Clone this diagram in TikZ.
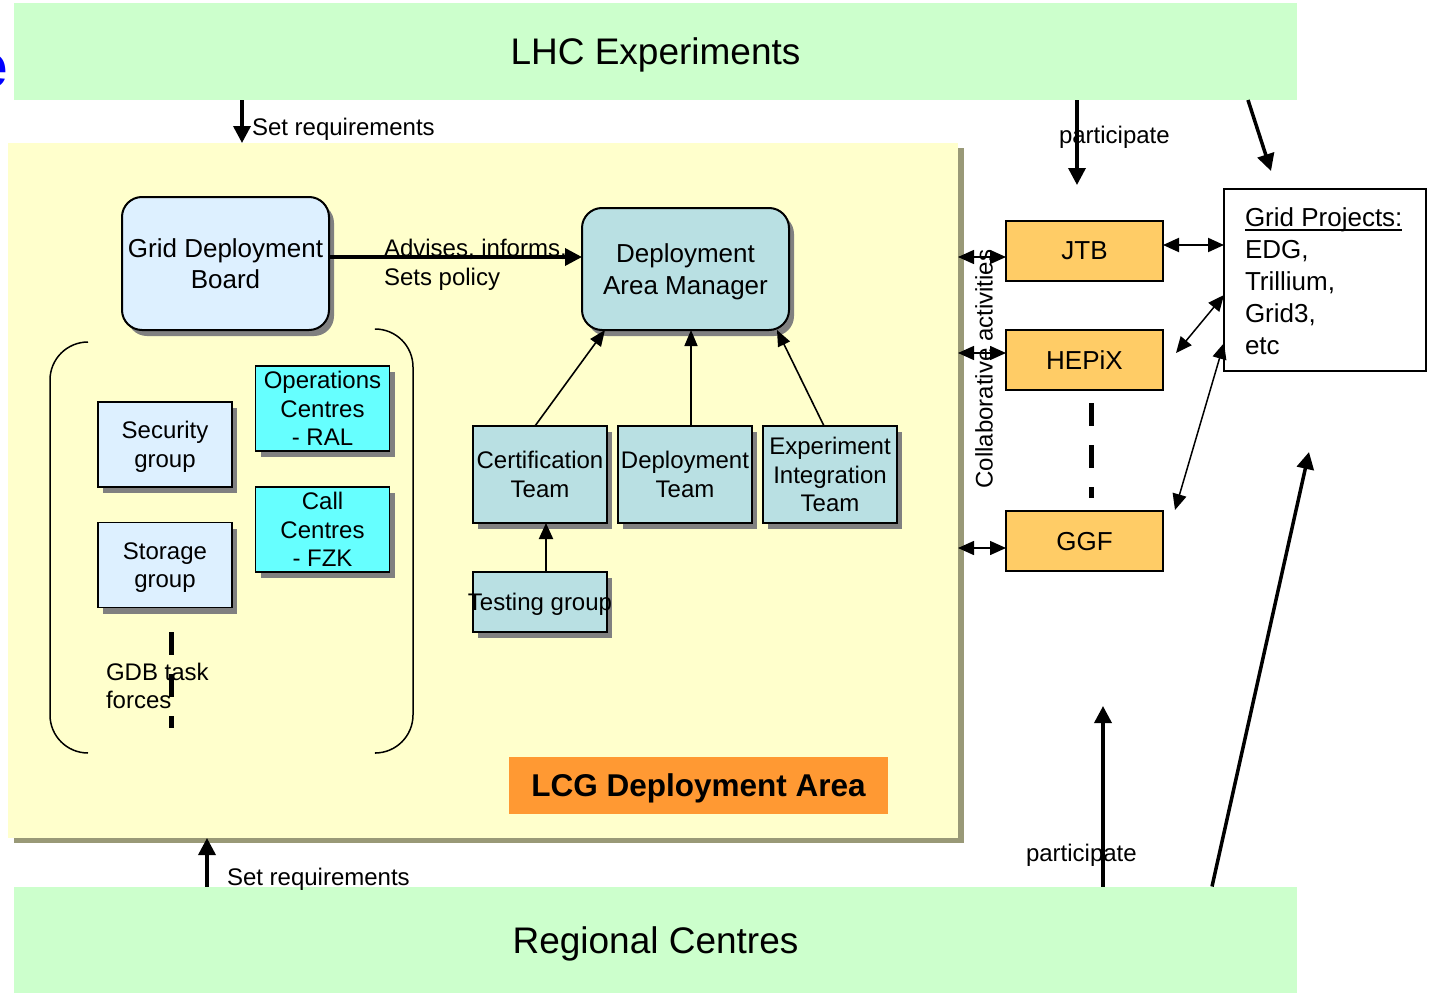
\documentclass[tikz,border=0pt]{standalone}
\usepackage{fontspec}
\setmainfont{Liberation Sans}
\usetikzlibrary{arrows.meta,shadows}
\definecolor{lhcgreen}{HTML}{CCFFCC}
\definecolor{areayellow}{HTML}{FFFFCC}
\definecolor{areashadow}{HTML}{999977}
\definecolor{paleblue}{HTML}{DDF0FF}
\definecolor{tealfill}{HTML}{B9E0E3}
\definecolor{cyanfill}{HTML}{66FFFF}
\definecolor{jtbfill}{HTML}{FFCC66}
\definecolor{lcgorange}{HTML}{FF9933}
\definecolor{boxshadow}{HTML}{808080}
\definecolor{titleblue}{HTML}{0000FF}
\newcommand\thickul[1]{\sbox0{#1}\rlap{\usebox0}\rule[-5pt]{\wd0}{1.8pt}}
\begin{document}
\begin{tikzpicture}[x=1pt,y=-1pt,
  every node/.style={inner sep=0pt, outer sep=0pt},
  f24/.style={font=\fontsize{24}{28.7}\selectfont},
  f26/.style={font=\fontsize{26}{31.5}\selectfont},
  boxshad/.style={drop shadow={shadow xshift=5pt,shadow yshift=-6pt,fill=boxshadow,opacity=1}},
  smallbox/.style={draw, line width=1.6pt, minimum width=134pt, minimum height=85pt, align=center, f24, text depth=0pt, boxshad},
  roundbox/.style={draw, line width=2pt, rounded corners=20pt, align=center, f26, text depth=0pt, boxshad},
  orgbox/.style={draw, line width=1.6pt, fill=jtbfill, minimum width=157pt, minimum height=60pt, f26, text depth=0pt},
  band/.style={fill=lhcgreen, minimum width=1283pt, text depth=0pt, font=\fontsize{37}{44}\selectfont},
  lbl/.style={anchor=base west, f24},
  bigarrow/.style={line width=3.5pt, -{Triangle[length=17pt,width=17pt]}},
  midarrow/.style={line width=2pt, -{Triangle[length=16pt,width=14pt]}},
  thinarrow/.style={line width=1.6pt, -{Triangle[length=16pt,width=13pt]}},
  dblarrow/.style={line width=1.5pt, {Triangle[length=16pt,width=14pt]}-{Triangle[length=16pt,width=14pt]}},
  thickdash/.style={line width=5pt, dash pattern=on 23pt off 19pt},
]
\useasboundingbox (0,0) rectangle (1433,993);

% cut-off title letter
\node[anchor=base east, text=titleblue, font=\bfseries\fontsize{62}{70}\selectfont] (title) at (7.5,87) {e};

% LCG deployment area
\node[fill=areayellow, minimum width=950pt, minimum height=695pt,
      drop shadow={shadow xshift=6pt, shadow yshift=-5pt, fill=areashadow, opacity=1}] (area) at (483,490.5) {};

% bands
\node[band, minimum height=97pt] (lhc) at (655.5,51.5) {LHC Experiments};
\node[band, minimum height=107pt] (reg) at (655.5,940) {Regional Centres};

% brackets
\draw[line width=1.5pt, rounded corners=38pt] (88,342) -- (50,342) -- (50,753) -- (88,753);
\draw[line width=1.5pt, rounded corners=38pt] (376,329) -- (413,329) -- (413,753) -- (376,753);

% boxes inside area
\node[roundbox, fill=paleblue, minimum width=207pt, minimum height=133pt] (gdb) at (225.5,263.5) {Grid Deployment\\Board};
\node[roundbox, fill=tealfill, minimum width=207pt, minimum height=122pt] (dam) at (685.5,269) {Deployment\\Area Manager};
\node[smallbox, fill=paleblue] (sec) at (165,444.5) {Security\\group};
\node[smallbox, fill=paleblue] (sto) at (165,565) {Storage\\group};
\node[smallbox, fill=cyanfill] (ops) at (322.5,408.5) {Operations\\Centres\\- RAL};
\node[smallbox, fill=cyanfill] (call) at (322.5,529.5) {Call\\Centres\\- FZK};
\node[smallbox, fill=tealfill, minimum height=97pt] (cert) at (540,474.5) {Certification\\Team};
\node[smallbox, fill=tealfill, minimum height=97pt] (dep) at (685,474.5) {Deployment\\Team};
\node[smallbox, fill=tealfill, minimum height=97pt] (exp) at (830,474.5) {Experiment\\Integration\\Team};
\node[smallbox, fill=tealfill, minimum height=60pt] (test) at (540,602) {\makebox[0pt]{Testing group}};
\node[fill=lcgorange, minimum width=379pt, minimum height=57pt, text depth=0pt, font=\bfseries\fontsize{31.5}{38}\selectfont] (lcg) at (698.5,785.5) {LCG Deployment Area};

% GDB task forces
\draw[thickdash] (171,632) -- (171,728);
\node[lbl] (tf1) at (106,680) {GDB task};
\node[lbl] (tf2) at (106,708) {forces};

% right-hand boxes
\node[orgbox] (jtb) at (1084.5,251) {JTB};
\node[orgbox] (hepix) at (1084.5,360) {HEPiX};
\node[orgbox] (ggf) at (1084.5,541) {GGF};
\draw[thickdash] ([xshift=6.5pt,yshift=-13pt]hepix.south) -- ([xshift=6.5pt,yshift=13pt]ggf.north);

\node[draw, line width=2pt, fill=white, minimum width=202pt, minimum height=182pt] (gp) at (1325,280) {};
\node[anchor=west, align=left, font=\fontsize{26}{32}\selectfont] (gptext) at (1245,281) {\thickul{Grid Projects:}\\EDG,\\Trillium,\\Grid3,\\etc};

\node[rotate=90, f24] (collab) at (984,369) {Collaborative activities};

% connectors
\draw[bigarrow] (lhc.south -| 242,0) -- (area.north -| 242,0);
\draw[bigarrow] (reg.north -| 207,0) -- (area.south -| 207,0);
\coordinate (pj) at (1077,185);
\draw[bigarrow] (lhc.south -| 1077,0) -- (pj);
\coordinate (gpa) at (1271,171);
\draw[bigarrow] (lhc.south -| 1248,0) -- (gpa);
\coordinate (pr) at (1103,706);
\draw[bigarrow] (reg.north -| 1103,0) -- (pr);
\coordinate (gpb) at (1309,452);
\draw[bigarrow] (reg.north -| 1212,0) -- (gpb);

\draw[bigarrow] (gdb.east |- 0,257) -- (dam.west |- 0,257);
\draw[thinarrow] (cert.north -| 535,0) -- (dam.south -| 605,0);
\draw[thinarrow] (dep.north -| 691,0) -- (dam.south -| 691,0);
\draw[thinarrow] (exp.north -| 824,0) -- (dam.south -| 777,0);
\draw[midarrow] (test.north -| 546,0) -- (cert.south -| 546,0);

\draw[dblarrow] (area.east |- 0,257) -- (jtb.west |- 0,257);
\draw[dblarrow] (area.east |- 0,353) -- (hepix.west |- 0,353);
\draw[dblarrow] (area.east |- 0,548) -- (ggf.west |- 0,548);
\draw[dblarrow, line width=2pt] (jtb.east |- 0,245) -- (gp.west |- 0,245);
\draw[dblarrow] ([xshift=13pt,yshift=7pt]hepix.east) -- (gp.west |- 0,295);
\draw[dblarrow] ([xshift=12pt,yshift=1pt]ggf.north east) -- (gp.west |- 0,343);

% labels
\node[lbl] (sr1) at (252,135) {Set requirements};
\node[lbl] (sr2) at (227,885) {Set requirements};
\node[lbl] (pa1) at (1059,143) {participate};
\node[lbl] (pa2) at (1026,861) {participate};
\node[lbl] (adv1) at (384,256) {Advises, informs,};
\node[lbl] (adv2) at (384,285) {Sets policy};
\end{tikzpicture}
\end{document}
